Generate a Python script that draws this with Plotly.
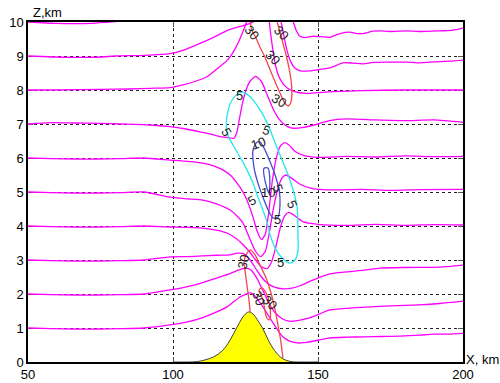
import plotly.graph_objects as go

# ---------------------------------------------------------------
# Streamlines (km): one x/z vertex list per initial level
# ---------------------------------------------------------------
s1_x = [50, 58, 66, 74, 82, 90, 99, 105, 110, 114.5, 118.6, 121, 123.1, 125, 126.6, 128.5, 131, 132.8,
        134.5, 136.2, 137.9, 140, 142.8, 146, 150, 154.1, 160, 166, 172, 178.3, 185, 190, 195, 200]
s1_z = [1.0, 0.98, 0.97, 0.97, 0.98, 1.0, 1.09, 1.18, 1.3, 1.45, 1.62, 1.78, 1.91, 1.99, 2.03, 1.92, 1.62, 1.38,
        1.15, 0.93, 0.74, 0.62, 0.56, 0.58, 0.64, 0.71, 0.73, 0.74, 0.75, 0.76, 0.79, 0.82, 0.82, 0.84]

s2_x = [50, 58, 66, 74, 82, 90, 99, 105, 110, 115, 119.7, 122.5, 125, 127, 129, 131, 133, 135, 137.5, 140,
        143, 147, 151, 154.1, 160, 167.9, 175, 185, 192, 200]
s2_z = [2.0, 1.98, 1.97, 1.97, 1.98, 2.0, 2.12, 2.22, 2.33, 2.47, 2.6, 2.7, 2.76, 2.7, 2.45, 2.1, 1.75, 1.47, 1.28, 1.2,
        1.22, 1.3, 1.43, 1.53, 1.58, 1.62, 1.65, 1.68, 1.72, 1.79]

s3_x = [50, 58, 66, 74, 82, 90, 99, 105, 110, 115, 119.7, 122, 124.5, 126.6, 128.5, 130.5, 132.5, 135, 138, 141,
        144, 148, 154.1, 160, 166, 171.4, 180, 192, 200]
s3_z = [3.0, 2.98, 2.97, 2.97, 2.98, 3.0, 3.09, 3.1, 3.12, 3.14, 3.15, 3.2, 3.18, 3.0, 2.75, 2.5, 2.32, 2.2, 2.15, 2.17,
        2.25, 2.4, 2.59, 2.65, 2.7, 2.76, 2.78, 2.79, 2.85]

s4_x = [50, 58, 66, 74, 82, 90, 99, 105, 110, 115, 119, 122, 124.5, 126.6, 128.5, 130.5, 132.5, 134, 135.5, 137,
        138.5, 140, 142, 145, 150, 160, 170, 180, 190, 200]
s4_z = [4.0, 3.98, 3.97, 3.97, 3.98, 4.0, 3.97, 3.96, 3.94, 3.88, 3.78, 3.62, 3.42, 3.22, 3.0, 2.8, 2.75, 2.95, 3.4, 3.95,
        4.3, 4.4, 4.3, 4.12, 4.05, 4.02, 4.05, 4.02, 4.04, 4.03]

s5_x = [50, 58, 66, 74, 82, 90, 99, 105, 110.3, 115, 119.7, 122, 124.1, 126.6, 128.5, 130.2, 131.8, 133.2, 134.6,
        136, 137.5, 139, 141, 144, 148, 155, 165, 175, 185, 200]
s5_z = [5.0, 4.98, 4.97, 4.97, 4.98, 5.0, 4.85, 4.8, 4.76, 4.65, 4.47, 4.3, 4.09, 3.6, 3.25, 3.1, 3.25, 3.8, 4.5,
        5.05, 5.4, 5.5, 5.4, 5.22, 5.1, 5.06, 5.08, 5.05, 5.07, 5.08]

s6_x = [50, 58, 66, 74, 82, 90, 99, 105, 110.3, 114, 117.2, 120, 122.1, 124, 125.5, 127.6, 129, 130.5, 131.8, 133,
        134.2, 135.5, 137, 138.5, 140, 142, 145, 150, 160, 170, 180, 190, 200]
s6_z = [6.0, 5.98, 5.97, 5.97, 5.98, 6.0, 5.94, 5.9, 5.85, 5.77, 5.65, 5.48, 5.26, 5.02, 4.76, 4.26, 3.85, 3.6, 3.75, 4.4,
        5.3, 5.95, 6.35, 6.45, 6.38, 6.2, 6.08, 6.02, 6.05, 6.03, 6.06, 6.04, 6.05]

s7_x = [50, 58, 66, 74.8, 82, 92, 99, 104, 109.3, 113, 116.2, 119, 121, 122, 122.8, 123.8, 125, 126.5, 128.5, 130.5,
        132.5, 134.5, 136.5, 138.5, 141, 145, 150, 154, 160, 170, 180, 190, 200]
s7_z = [7.0, 7.04, 7.03, 7.02, 7.0, 6.97, 6.92, 6.86, 6.77, 6.7, 6.63, 6.6, 6.58, 6.75, 7.1, 7.55, 7.95, 8.25, 8.4, 8.25,
        7.85, 7.45, 7.15, 6.98, 6.88, 6.9, 7.0, 7.1, 7.15, 7.12, 7.1, 7.12, 7.05]

s8_x = [50, 60, 74.8, 85, 92, 99, 103.4, 107.5, 111.7, 116.2, 119, 121, 122.8, 124.5, 125.8, 128, 130.5, 132.8, 133.6,
        134.4, 135.3, 136.4, 137.8, 139.5, 142, 146, 150, 155, 165, 180, 200]
s8_z = [8.0, 8.0, 8.02, 8.03, 8.05, 8.07, 8.15, 8.25, 8.39, 8.69, 8.9, 9.15, 9.45, 9.8, 10.1, 10.6, 10.6, 10.2, 9.7,
        9.2, 8.75, 8.42, 8.2, 8.05, 7.95, 7.9, 7.92, 7.95, 7.98, 8.0, 8.0]

s9_x = [50, 59.5, 67, 75, 80, 90, 99, 104, 109.3, 114, 119, 122, 124.5, 127.6, 130, 133, 135.5, 137, 138, 139.2,
        140.5, 142, 144, 147, 150, 154.1, 158.6, 162.1, 165.5, 169, 173.8, 180.7, 184.1, 188.6, 195.5, 200]
s9_z = [9.0, 8.97, 8.96, 8.97, 9.0, 9.02, 9.07, 9.18, 9.37, 9.55, 9.76, 9.84, 9.9, 10.0, 10.3, 10.5, 10.45, 10.1,
        9.7, 9.2, 8.85, 8.65, 8.56, 8.56, 8.6, 8.65, 8.8, 8.79, 8.77, 8.81, 8.82, 8.82, 8.8, 8.82, 8.85, 8.88]

s10_x = [50, 59.5, 66, 72, 78, 86, 100, 115, 125, 135, 140, 141.5, 142.5, 143.8, 145.5, 148, 151, 154.1, 157.6, 161,
         163.4, 165.5, 169, 171.4, 174.8, 180.7, 185.2, 192, 196.6, 200]
s10_z = [10.0, 9.96, 9.95, 9.96, 10.0, 10.05, 10.12, 10.3, 10.6, 10.7, 10.35, 10.0, 9.75, 9.58, 9.54, 9.58, 9.57,
         9.55, 9.66, 9.7, 9.66, 9.66, 9.73, 9.74, 9.72, 9.74, 9.72, 9.74, 9.76, 9.82]

streamlines = [(s1_x, s1_z), (s2_x, s2_z), (s3_x, s3_z), (s4_x, s4_z), (s5_x, s5_z),
               (s6_x, s6_z), (s7_x, s7_z), (s8_x, s8_z), (s9_x, s9_z), (s10_x, s10_z)]

# ---------------------------------------------------------------
# Isolines of the wave field
# ---------------------------------------------------------------
# level 5 (closed)
c5_x = [123.8, 121.4, 119.7, 118.6, 118.6, 120.3, 123.1, 125.5, 127.6, 129.3, 131.0, 132.4, 133.5, 135.2, 137.6,
        140.3, 142.1, 143.1, 143.1, 142.8, 141.4, 139.7, 137.6, 135.5, 133.5, 130.7, 127.6, 125.5, 123.8]
c5_z = [7.94, 7.82, 7.59, 7.21, 6.74, 6.44, 6.03, 5.65, 5.26, 4.85, 4.47, 4.12, 3.74, 3.35, 3.06,
        2.91, 3.0, 3.29, 3.74, 4.56, 5.06, 5.5, 5.94, 6.38, 6.82, 7.32, 7.71, 7.88, 7.94]

# level 10 (outer and inner closed loops)
c10a_x = [129.0, 127.6, 127.9, 129.3, 131.0, 132.8, 134.5, 136.2, 136.9, 136.6, 135.2, 133.5, 131.4, 130.0, 129.0]
c10a_z = [6.47, 6.24, 5.74, 5.26, 4.85, 4.47, 4.24, 4.26, 4.62, 5.06, 5.5, 5.88, 6.29, 6.47, 6.47]
c10b_x = [131.4, 132.1, 133.1, 133.4, 132.8, 131.4]
c10b_z = [5.7, 5.2, 4.97, 5.35, 5.7, 5.7]

# level 30 (upper open curve, lower curve on the ridge, small loop)
c30a_x = [126.6, 127.2, 128.6, 130.0, 131.7, 133.5, 135.2, 136.9, 138.3, 139.7, 140.7, 141.0, 140.7, 140.0, 139.0,
          137.9, 136.9, 135.9]
c30a_z = [10.0, 9.76, 9.53, 9.26, 8.97, 8.59, 8.24, 7.91, 7.65, 7.53, 7.65, 7.94, 8.29, 8.65, 9.03, 9.38, 9.71, 10.0]
c30b_x = [126.6, 126.2, 125.5, 124.8, 124.5, 125.2, 126.6, 128.3, 130.0, 132.1, 133.8, 135.2, 136.2, 137.2, 137.9]
c30b_z = [1.47, 1.82, 2.26, 2.71, 2.94, 3.15, 3.29, 3.15, 2.85, 2.47, 2.03, 1.53, 1.09, 0.59, 0.12]
c30c_x = [129.7, 131.0, 132.4, 133.4, 133.4, 132.1, 130.7, 129.7]
c30c_z = [2.12, 1.82, 1.29, 1.24, 1.68, 2.03, 2.18, 2.12]

# contour labels: text, x, z, angle
label_text = ["30", "30", "30", "30", "5", "5", "5", "10", "10", "5", "5", "5", "5", "5", "30", "30", "30"]
label_x = [127.2, 137.2, 134.5, 136.6, 123.1, 118.6, 132.4, 129.3, 132.8, 136.2, 127.2, 141.0, 136.2, 136.9,
           124.1, 129.7, 133.4]
label_z = [9.7, 9.68, 8.97, 7.7, 7.85, 6.76, 6.82, 6.44, 5.0, 5.1, 4.76, 4.62, 4.18, 2.94, 2.94, 1.88, 1.76]
label_angle = [50, 45, 45, 30, 0, 60, 20, -20, 0, 70, -30, 65, 0, 0, -75, 70, 45]

# ---------------------------------------------------------------
# Terrain profile (km)
# ---------------------------------------------------------------
terrain_x = [100, 108, 111, 114, 117, 119, 121, 123, 124.5, 126, 127.5, 129, 131, 133, 135, 137, 139, 141, 143, 150]
terrain_z = [0, 0.01, 0.06, 0.15, 0.33, 0.55, 0.85, 1.17, 1.37, 1.47, 1.42, 1.25, 0.98, 0.62, 0.34, 0.15, 0.05,
             0.01, 0, 0]

x_ticks = [50, 100, 150, 200]
z_ticks = list(range(0, 11))

fig = go.Figure()

for sx, sz in streamlines:
    fig.add_trace(go.Scatter(x=sx, y=sz, mode="lines",
                             line=dict(color="#ff00ff", width=1.3, shape="spline", smoothing=0.6),
                             hoverinfo="skip", showlegend=False))

fig.add_trace(go.Scatter(x=c5_x, y=c5_z, mode="lines",
                         line=dict(color="#22e8e8", width=1.3, shape="spline", smoothing=0.8),
                         hoverinfo="skip", showlegend=False))
for cx, cz in [(c10a_x, c10a_z), (c10b_x, c10b_z)]:
    fig.add_trace(go.Scatter(x=cx, y=cz, mode="lines",
                             line=dict(color="#4a4ad0", width=1.3, shape="spline", smoothing=0.8),
                             hoverinfo="skip", showlegend=False))
for cx, cz in [(c30a_x, c30a_z), (c30b_x, c30b_z), (c30c_x, c30c_z)]:
    fig.add_trace(go.Scatter(x=cx, y=cz, mode="lines",
                             line=dict(color="#f04848", width=1.3, shape="spline", smoothing=0.8),
                             hoverinfo="skip", showlegend=False))

fig.add_trace(go.Scatter(x=terrain_x, y=terrain_z, mode="lines", fill="tozeroy", fillcolor="#ffff00",
                         line=dict(color="#404040", width=1, shape="spline"),
                         hoverinfo="skip", showlegend=False))

for t, lx, lz, la in zip(label_text, label_x, label_z, label_angle):
    fig.add_annotation(x=lx, y=lz, text=t, showarrow=False, textangle=la,
                       font=dict(size=13, color="#222222"))

axis_common = dict(showgrid=True, gridcolor="#222222", gridwidth=1, griddash="3px,3px",
                   showline=True, linecolor="black", linewidth=1.5, mirror="ticks",
                   ticks="inside", ticklen=5, tickcolor="#555555", zeroline=False, automargin=False,
                   layer="below traces", tickfont=dict(size=13, color="black"))

fig.update_xaxes(range=[50, 200], tickvals=x_ticks, ticktext=[str(v) for v in x_ticks], **axis_common)
fig.update_yaxes(range=[0, 10], tickvals=z_ticks, ticktext=[str(v) for v in z_ticks], **axis_common)

fig.add_annotation(xref="paper", yref="paper", x=0.008, y=1.0, xanchor="left", yanchor="bottom",
                   text="Z,km", showarrow=False, font=dict(size=13, color="black"))
fig.add_annotation(xref="paper", yref="paper", x=1.0, y=0.0, xanchor="left", yanchor="middle",
                   xshift=1, yshift=3, text="X, km", showarrow=False, font=dict(size=13, color="black"))

fig.update_layout(width=500, height=383, margin=dict(l=28, r=37, t=22, b=21, autoexpand=False),
                  paper_bgcolor="white", plot_bgcolor="white", showlegend=False,
                  font=dict(family="Liberation Sans, Arial, sans-serif", size=13, color="black"))

fig.write_html("out.html")
